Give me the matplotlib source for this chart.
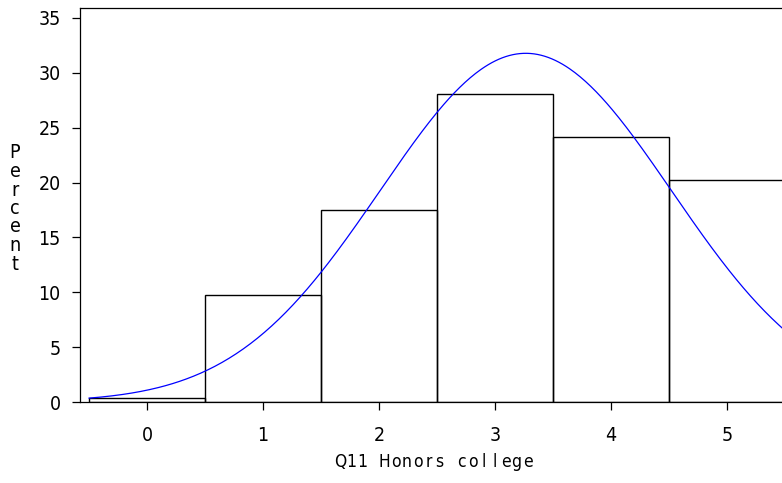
import numpy as np
import matplotlib
matplotlib.use("Agg")
import matplotlib.pyplot as plt

# histogram of Q11 Honors college (percent per category)
categories = [0, 1, 2, 3, 4, 5]
percent = [0.35, 9.75, 17.5, 28.05, 24.15, 20.2]
xticks = [0, 1, 2, 3, 4, 5]
yticks = [0, 5, 10, 15, 20, 25, 30, 35]

plt.rcParams["font.family"] = ["DejaVu Sans"]
plt.rcParams["font.stretch"] = "condensed"

# normal curve fitted from the histogram
cat = np.array(categories, dtype=float)
pct = np.array(percent)
mu = (cat * pct).sum() / pct.sum()
sd = np.sqrt(((cat - mu) ** 2 * pct).sum() / pct.sum())
xs = np.linspace(-0.5, 5.6, 400)
curve = 100 / (sd * np.sqrt(2 * np.pi)) * np.exp(-0.5 * ((xs - mu) / sd) ** 2)

W, H = 782, 483
fig = plt.figure(figsize=(W / 100, H / 100), dpi=100)
ax = fig.add_axes([80 / W, (H - 402) / H, (W - 80) / W, (402 - 8) / H])

ax.bar(categories, percent, width=1.0, fill=False, edgecolor="black", linewidth=1.0)
ax.plot(xs, curve, color="#0000ff", linewidth=0.9)

ax.set_xlim(-0.578, 5.474)
ax.set_ylim(0, 35.91)
ax.set_xticks(xticks)
ax.set_yticks(yticks)
ax.tick_params(direction="out", length=6, width=0.9, labelsize=14, pad=8)
ax.tick_params(axis="x", pad=11)
ax.spines["right"].set_visible(False)
for s in ["left", "top", "bottom"]:
    ax.spines[s].set_linewidth(0.9)

# x label, letters spaced out one by one
xlabel = "Q11 Honors college"
x0 = 335 + 5.5
for i, ch in enumerate(xlabel):
    if ch != " ":
        fig.text((x0 + i * 11) / W, 1 - 462 / H, ch, ha="center", va="center",
                 fontsize=12.5)

# stacked y label
for i, ch in enumerate("Percent"):
    fig.text(15 / W, 1 - (153 + i * 18.5) / H, ch, ha="center", va="center", fontsize=14)

fig.savefig("out.png", dpi=100)
